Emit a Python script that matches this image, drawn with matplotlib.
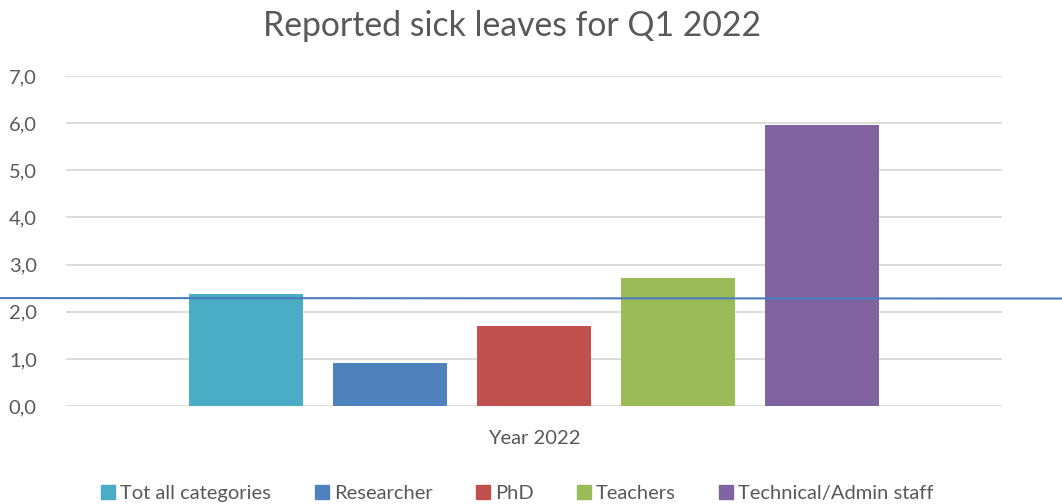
import matplotlib.pyplot as plt
from matplotlib.lines import Line2D
from matplotlib.ticker import FuncFormatter
import matplotlib.transforms as mtransforms

plt.rcParams["font.family"] = ["Lato", "DejaVu Sans"]

# data
categories = ["Tot all categories", "Researcher", "PhD", "Teachers", "Technical/Admin staff"]
values = [2.38, 0.92, 1.70, 2.72, 5.97]
colors = ["#4BACC6", "#4F81BD", "#C0504D", "#9BBB59", "#8064A2"]
group_label = "Year 2022"
ref_line = [2.29, 2.28]  # hand-drawn reference line, left/right ends

fig = plt.figure(figsize=(10.62, 5.04), dpi=100)
ax = fig.add_axes([0.0621, 0.1944, 0.8814, 0.6548])

x = list(range(len(categories)))
ax.bar(x, values, width=0.79, color=colors, zorder=3)

ax.set_xlim(-1.25, 5.25)
ax.set_ylim(0, 7)
ax.set_yticks(range(0, 8))
ax.yaxis.set_major_formatter(FuncFormatter(lambda v, p: f"{v:.1f}".replace(".", ",")))
ax.grid(axis="y", color="#d9d9d9", linewidth=1.3, zorder=0)
ax.set_xticks([2])
ax.set_xticklabels([group_label])
ax.tick_params(axis="both", length=0, labelsize=14.5, labelcolor="#595959")
ax.tick_params(axis="y", pad=21)
ax.tick_params(axis="x", pad=17)
for s in ax.spines.values():
    s.set_visible(False)
ax.set_axisbelow(True)

# reference line spanning the whole figure width
trans = mtransforms.blended_transform_factory(ax.transAxes, ax.transData)
ax.plot([-0.0705, 1.064], ref_line, color="#4A7EBB", linewidth=1.5,
        transform=trans, clip_on=False, zorder=4)

fig.suptitle("Reported sick leaves for Q1 2022", x=0.482, y=0.98, fontsize=24.3, color="#595959")

handles = [Line2D([], [], marker="s", linestyle="", color=c, markersize=10.5) for c in colors]
fig.legend(handles, categories, loc="lower center", ncol=5, frameon=False,
           bbox_to_anchor=(0.486, -0.032), fontsize=14.5, labelcolor="#595959",
           handletextpad=0.1, columnspacing=2.0, handlelength=1.0)

fig.savefig("out.png", dpi=100)
